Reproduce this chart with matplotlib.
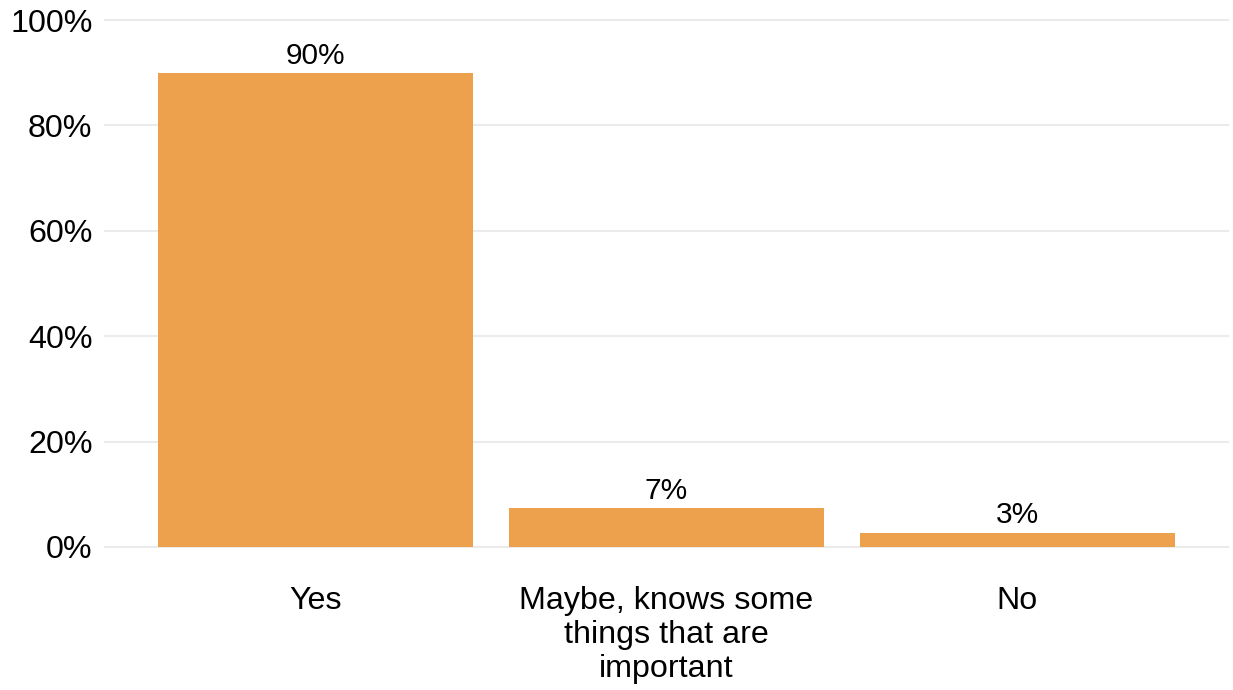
import matplotlib

matplotlib.use("Agg")
import matplotlib.pyplot as plt
from matplotlib.ticker import FuncFormatter

categories = ["Yes", "Maybe, knows some\nthings that are\nimportant", "No"]
values = [89.9, 7.4, 2.7]
labels = ["90%", "7%", "3%"]
yticks = [0, 20, 40, 60, 80, 100]

BAR_COLOR = "#EDA14C"
GRID_COLOR = "#EBEBEB"

plt.rcParams["font.family"] = ["Liberation Sans", "DejaVu Sans"]

fig = plt.figure(figsize=(12.33, 6.9), dpi=100)
ax = fig.add_axes([105 / 1233, 143 / 690, 1123 / 1233, 527 / 690])

x = list(range(len(categories)))
ax.bar(x, values, width=0.9, color=BAR_COLOR, zorder=2)

for xi, v, lab in zip(x, values, labels):
    ax.annotate(lab, (xi, v), xytext=(0, 2.5), textcoords="offset points",
                ha="center", va="bottom", fontsize=21.5, color="black")

ax.set_xlim(-0.6, 2.6)
ax.set_ylim(0, 100)
ax.set_yticks(yticks)
ax.yaxis.set_major_formatter(FuncFormatter(lambda v, _: f"{v:.0f}%"))
ax.set_xticks(x)
ax.set_xticklabels(categories, linespacing=1.17)

ax.grid(axis="y", color=GRID_COLOR, linewidth=1.5, zorder=0)
for gl in ax.get_ygridlines():
    gl.set_clip_on(False)
for s in ax.spines.values():
    s.set_visible(False)
ax.tick_params(axis="both", length=0, labelsize=23.2, colors="black")
ax.tick_params(axis="y", pad=9)
ax.tick_params(axis="x", pad=28)

fig.savefig("out.png", dpi=100)
